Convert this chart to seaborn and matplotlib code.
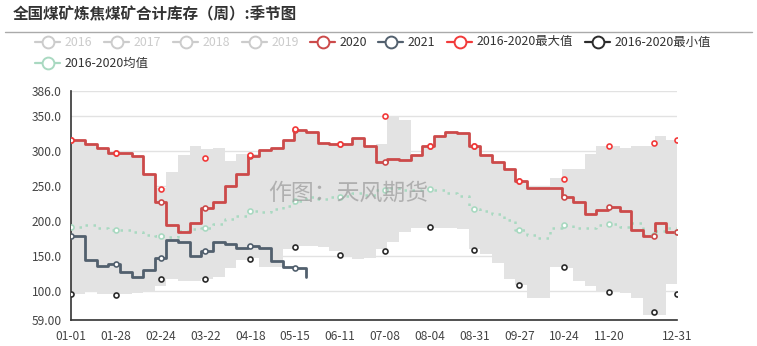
import numpy as np
import pandas as pd
import matplotlib
matplotlib.use("Agg")
import matplotlib.pyplot as plt
from matplotlib.lines import Line2D
import seaborn as sns

# ---------------- data ----------------
TITLE = "全国煤矿炼焦煤矿合计库存（周）:季节图"
WATERMARK = "作图：天风期货"

tick_days = [0, 27, 54, 81, 108, 135, 162, 189, 216, 243, 270, 297, 324, 365]
tick_labels = ["01-01", "01-28", "02-24", "03-22", "04-18", "05-15", "06-11",
               "07-08", "08-04", "08-31", "09-27", "10-24", "11-20", "12-31"]
marker_days = [0, 27, 54, 81, 108, 135, 162, 189, 216, 243, 270, 297, 324, 351, 365]

y_ticks = [59, 100, 150, 200, 250, 300, 350, 386]
y_tick_labels = ["59.00", "100.0", "150.0", "200.0", "250.0", "300.0", "350.0", "386.0"]

# weekly observation positions (day of year on the seasonal axis)
week_x = [0] + [7 * k + 1.5 for k in range(1, 52)] + [365]

s2020 = [316, 310, 305, 298, 298, 293, 267, 228, 195, 185, 198, 219, 228, 250, 268,
         293, 302, 304, 316, 331, 328, 312, 311, 310, 319, 308, 284, 289, 287, 295,
         307, 322, 327, 326, 307, 295, 284, 274, 258, 248, 248, 247, 234, 227, 211,
         216, 221, 215, 188, 179, 197, 185, 185]

s2021 = [179, 145, 136, 139, 128, 120.5, 130.5, 147, 173, 171, 151, 157, 171, 167,
         162, 164, 162, 143, 134, 133, 121]

s_mean = [192, 194, 191, 187, 187, 185, 180, 179, 177, 186, 189, 190, 196, 203, 208,
          214, 213, 218, 222, 229, 234, 232, 235, 236, 240, 238, 245, 247, 245, 245,
          246, 244, 240, 236, 218, 214, 210, 202, 188, 180, 176, 191, 195, 191, 190,
          194, 196, 192, 197, 181, 186, 190, 184]

band_max = [316, 310, 305, 299, 298, 293, 267, 247, 270, 294, 308, 303, 305, 286, 296,
            296, 302, 304, 316, 331, 328, 312, 311, 310, 319, 308, 311, 350, 345, 295,
            307, 322, 327, 326, 307, 295, 284, 274, 258, 248, 250, 262, 274, 274, 296,
            308, 308, 304, 308, 308, 322, 316, 316]

band_min = [96, 98.6, 96, 95.7, 96, 97, 99.5, 107.6, 117.6, 114, 114, 117, 121, 133, 144,
            147, 135, 134, 161, 164, 164, 163, 158, 150, 146, 148, 160, 170, 185, 191,
            191, 191, 191, 189, 160, 153, 140, 118, 109, 90, 90, 134, 133, 115, 107,
            99.5, 99.5, 97, 90, 66, 66, 111, 111]

max_marks = [316, 298, 246, 290, 294.5, 331.5, 311, 350.5, 307, 307, 258, 260, 307.6, 311.4, 315.7]
min_marks = [96, 95, 118, 117, 145.7, 163.8, 151.4, 157.6, 191.4, 159, 109.5, 134.3, 99.5, 71, 96]

legend_labels = ["2016", "2017", "2018", "2019", "2020", "2021",
                 "2016-2020最大值", "2016-2020最小值", "2016-2020均值"]

# ---------------- style ----------------
C2020 = "#cc4a4a"
C2021 = "#52606e"
CMAX = "#f23a3a"
CMIN = "#2b2b2b"
CMEAN = "#a9d9c1"
CDIS = "#cccccc"
CBAND = "#e3e3e3"

sns.set_theme(style="white")
plt.rcParams["font.family"] = ["Noto Sans CJK SC", "DejaVu Sans"]
plt.rcParams["axes.unicode_minus"] = False

W, H = 757, 346
fig = plt.figure(figsize=(W / 100, H / 100), dpi=100)
fig.patch.set_facecolor("white")
ax = fig.add_axes([71 / W, 26 / H, 606 / W, 229 / H])
ax.set_facecolor("white")


def at(days, xs, vals):
    idx = np.searchsorted(np.asarray(xs), np.asarray(days), side="right") - 1
    idx = np.clip(idx, 0, len(vals) - 1)
    return np.asarray(vals, dtype=float)[idx]


# band between min and max
ax.fill_between(week_x, band_min, band_max, step="post", color=CBAND, lw=0, zorder=1)

# mean (dotted)
df_mean = pd.DataFrame({"day": week_x, "v": s_mean})
sns.lineplot(data=df_mean, x="day", y="v", ax=ax, color=CMEAN, lw=1.8,
             linestyle=(0, (1, 2.2)), drawstyle="steps-post", estimator=None,
             sort=False, zorder=3)

# 2020
df20 = pd.DataFrame({"day": week_x, "v": s2020})
sns.lineplot(data=df20, x="day", y="v", ax=ax, color=C2020, lw=2,
             drawstyle="steps-post", estimator=None, sort=False, zorder=4)

# 2021
x21 = week_x[:len(s2021)]
df21 = pd.DataFrame({"day": x21, "v": s2021})
sns.lineplot(data=df21, x="day", y="v", ax=ax, color=C2021, lw=2,
             drawstyle="steps-post", estimator=None, sort=False, zorder=4)

# markers
mk = dict(s=13, color="white", linewidth=1.2, zorder=6, marker="o", legend=False)
sns.scatterplot(x=marker_days, y=at(marker_days, week_x, s_mean), ax=ax, edgecolor=CMEAN, **mk)
sns.scatterplot(x=marker_days, y=at(marker_days, week_x, s2020), ax=ax, edgecolor=C2020, **mk)
d21 = [d for d in marker_days if d <= x21[-1]]
sns.scatterplot(x=d21, y=at(d21, x21, s2021), ax=ax, edgecolor=C2021, **mk)
sns.scatterplot(x=marker_days, y=max_marks, ax=ax, edgecolor=CMAX, **mk)
sns.scatterplot(x=marker_days, y=min_marks, ax=ax, edgecolor=CMIN, **mk)

# axes
ax.set_xlim(0, 365)
ax.set_ylim(59, 386)
ax.set_xticks(tick_days)
ax.set_xticklabels(tick_labels)
ax.set_yticks(y_ticks)
ax.set_yticklabels(y_tick_labels)
ax.set_xlabel("")
ax.set_ylabel("")
ax.grid(axis="y", color="#e2e2e2", lw=1, zorder=0)
ax.grid(axis="x", visible=False)
ax.set_axisbelow(True)
for s in ["top", "right"]:
    ax.spines[s].set_visible(False)
for s in ["left", "bottom"]:
    ax.spines[s].set_color("#333333")
    ax.spines[s].set_linewidth(1.2)
ax.tick_params(axis="both", colors="#333333", labelsize=8.6, length=4, width=1,
               direction="out", pad=2.5, labelcolor="#444444")
ax.tick_params(axis="x", pad=3)

# watermark (centered in the plot area)
fig.text(348 / W, 1 - 193 / H, WATERMARK, ha="center", va="center", fontsize=16.5,
         color="#9a9a9a", alpha=0.7, zorder=2)

# title and separator
fig.text(13 / W, 1 - 14 / H, TITLE, ha="left", va="center", fontsize=11.2,
         fontweight="bold", color="#333333")
fig.add_artist(Line2D([5 / W, 752 / W], [1 - 31.5 / H] * 2, color="#aaaaaa", lw=1,
                      transform=fig.transFigure))

# legend (manual, echarts-like)
leg_pos = [(35, 42), (104, 42), (173, 42), (242, 42), (310, 42), (378, 42),
           (447, 42), (585, 42), (35, 63)]
leg_cols = [CDIS, CDIS, CDIS, CDIS, C2020, C2021, CMAX, CMIN, CMEAN]
leg_txt = [CDIS, CDIS, CDIS, CDIS, "#333333", "#333333", "#333333", "#333333", "#333333"]
for (px, py), lab, c, tc in zip(leg_pos, legend_labels, leg_cols, leg_txt):
    yy = 1 - py / H
    fig.add_artist(Line2D([px / W, (px + 25) / W], [yy, yy], color=c, lw=1.6,
                          transform=fig.transFigure))
    fig.add_artist(Line2D([(px + 12.5) / W], [yy], marker="o", ms=8.5, mfc="white",
                          mec=c, mew=1.4, transform=fig.transFigure))
    fig.text((px + 30) / W, yy, lab, ha="left", va="center", fontsize=8.9, color=tc)

fig.savefig("out.png", dpi=100)
